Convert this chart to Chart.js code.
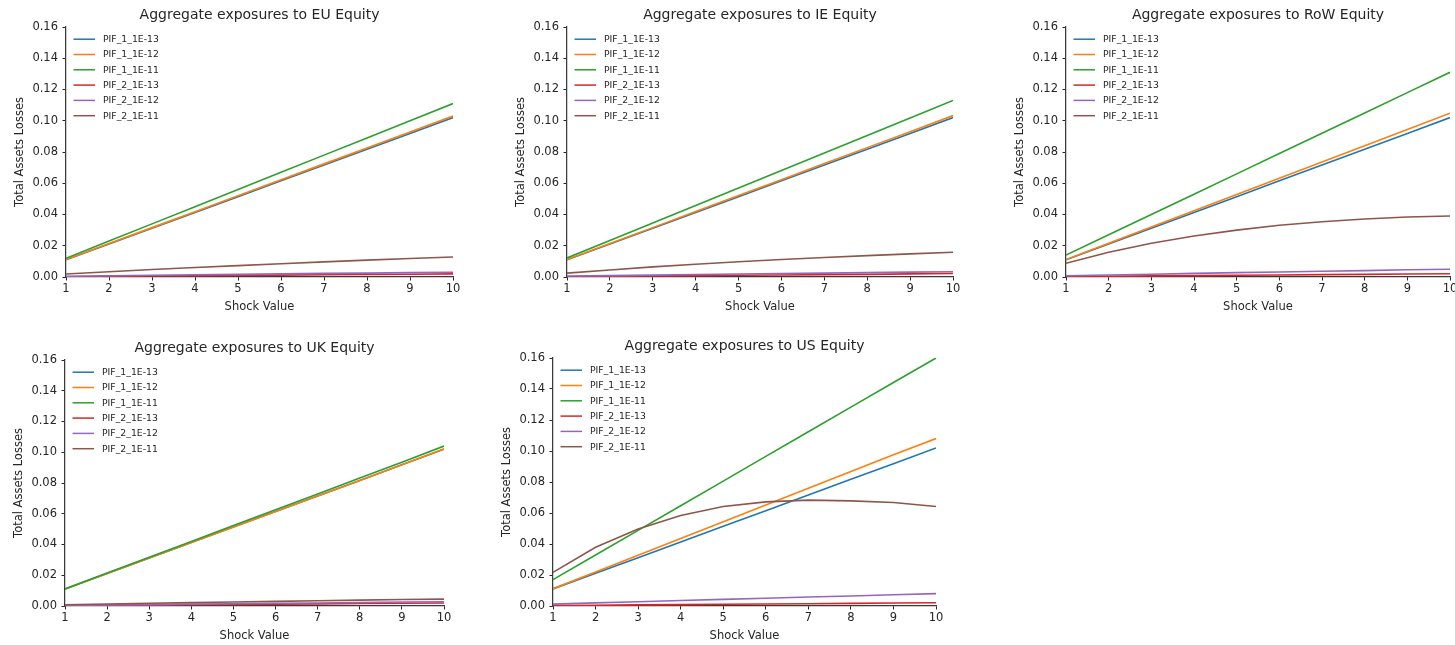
<!DOCTYPE html>
<html>
<head>
<meta charset="utf-8">
<script src="https://cdn.jsdelivr.net/npm/chart.js@4.4.0/dist/chart.umd.min.js"></script>
<style>
  body { margin: 0; width: 1455px; height: 645px; overflow: hidden; background: #fff; position: relative; }
  canvas { position: absolute; }
</style>
</head>
<body>
<canvas id="euCtx"></canvas>
<canvas id="ieCtx"></canvas>
<canvas id="rowCtx"></canvas>
<canvas id="ukCtx"></canvas>
<canvas id="usCtx"></canvas>
<script>
// shock values on the x axis and the six scenario names
const shockValues = [1, 2, 3, 4, 5, 6, 7, 8, 9, 10];
const seriesNames = ["PIF_1_1E-13", "PIF_1_1E-12", "PIF_1_1E-11", "PIF_2_1E-13", "PIF_2_1E-12", "PIF_2_1E-11"];
const yTicks = [0, 0.02, 0.04, 0.06, 0.08, 0.10, 0.12, 0.14, 0.16];

// losses per region, one row per scenario (same order as seriesNames)
const euLosses = [
    [0.0110, 0.0211, 0.0312, 0.0413, 0.0514, 0.0616, 0.0717, 0.0818, 0.0919, 0.1020],
    [0.0112, 0.0214, 0.0316, 0.0418, 0.0520, 0.0622, 0.0724, 0.0826, 0.0928, 0.1030],
    [0.0120, 0.0230, 0.0340, 0.0450, 0.0560, 0.0670, 0.0780, 0.0890, 0.1000, 0.1110],
    [0.0002, 0.0004, 0.0006, 0.0008, 0.0010, 0.0012, 0.0014, 0.0016, 0.0018, 0.0020],
    [0.0005, 0.0008, 0.0011, 0.0014, 0.0017, 0.0020, 0.0023, 0.0025, 0.0028, 0.0030],
    [0.0019, 0.0034, 0.0048, 0.0061, 0.0073, 0.0085, 0.0097, 0.0108, 0.0118, 0.0128]
];
const ieLosses = [
    [0.0110, 0.0211, 0.0312, 0.0413, 0.0514, 0.0616, 0.0717, 0.0818, 0.0919, 0.1020],
    [0.0112, 0.0214, 0.0316, 0.0419, 0.0521, 0.0623, 0.0726, 0.0828, 0.0930, 0.1033],
    [0.0122, 0.0234, 0.0346, 0.0458, 0.0570, 0.0682, 0.0794, 0.0906, 0.1018, 0.1130],
    [0.0002, 0.0004, 0.0006, 0.0009, 0.0011, 0.0013, 0.0015, 0.0017, 0.0020, 0.0022],
    [0.0006, 0.0009, 0.0012, 0.0016, 0.0019, 0.0022, 0.0025, 0.0028, 0.0031, 0.0034],
    [0.0025, 0.0045, 0.0065, 0.0082, 0.0098, 0.0112, 0.0125, 0.0137, 0.0148, 0.0158]
];
const rowLosses = [
    [0.0110, 0.0211, 0.0312, 0.0413, 0.0514, 0.0616, 0.0717, 0.0818, 0.0919, 0.1020],
    [0.0112, 0.0216, 0.0320, 0.0424, 0.0528, 0.0632, 0.0736, 0.0840, 0.0944, 0.1048],
    [0.0140, 0.0270, 0.0400, 0.0530, 0.0660, 0.0790, 0.0920, 0.1050, 0.1180, 0.1310],
    [0.0003, 0.0005, 0.0007, 0.0009, 0.0011, 0.0013, 0.0015, 0.0017, 0.0019, 0.0021],
    [0.0008, 0.0013, 0.0018, 0.0023, 0.0028, 0.0032, 0.0037, 0.0041, 0.0046, 0.0050],
    [0.0088, 0.0158, 0.0216, 0.0262, 0.0300, 0.0331, 0.0354, 0.0371, 0.0384, 0.0390]
];
const ukLosses = [
    [0.0110, 0.0211, 0.0312, 0.0413, 0.0514, 0.0615, 0.0716, 0.0817, 0.0918, 0.1020],
    [0.0110, 0.0211, 0.0312, 0.0413, 0.0514, 0.0615, 0.0716, 0.0817, 0.0918, 0.1022],
    [0.0111, 0.0214, 0.0317, 0.0420, 0.0523, 0.0626, 0.0729, 0.0832, 0.0935, 0.1040],
    [0.0002, 0.0004, 0.0006, 0.0008, 0.0010, 0.0012, 0.0014, 0.0016, 0.0018, 0.0020],
    [0.0004, 0.0007, 0.0009, 0.0012, 0.0015, 0.0018, 0.0020, 0.0023, 0.0026, 0.0028],
    [0.0008, 0.0013, 0.0018, 0.0022, 0.0026, 0.0030, 0.0034, 0.0038, 0.0042, 0.0045]
];
const usLosses = [
    [0.0110, 0.0211, 0.0312, 0.0413, 0.0514, 0.0615, 0.0716, 0.0817, 0.0918, 0.1020],
    [0.0112, 0.0220, 0.0328, 0.0436, 0.0544, 0.0652, 0.0760, 0.0868, 0.0976, 0.1080],
    [0.0170, 0.0329, 0.0488, 0.0647, 0.0806, 0.0965, 0.1124, 0.1283, 0.1442, 0.1600],
    [0.0003, 0.0005, 0.0007, 0.0009, 0.0011, 0.0013, 0.0015, 0.0017, 0.0019, 0.0021],
    [0.0012, 0.0020, 0.0027, 0.0035, 0.0043, 0.0050, 0.0058, 0.0065, 0.0073, 0.0080],
    [0.0217, 0.0379, 0.0497, 0.0584, 0.0642, 0.0672, 0.0683, 0.0678, 0.0668, 0.0642]
];

// matplotlib tab10 colours
const colors = ["#1f77b4", "#ff7f0e", "#2ca02c", "#d62728", "#9467bd", "#8c564b"];

const FONT = "'DejaVu Sans', 'Liberation Sans', sans-serif";
const INK = "#262626";
const Y_AXIS_W = 66;
const X_AXIS_H = 40;
const TITLE_H = 27;
const RIGHT_PAD = 12;

// legend drawn inside the plot area, top left, like matplotlib's
const insideLegend = {
    id: "insideLegend",
    afterDatasetsDraw(chart) {
        const ctx = chart.ctx;
        const area = chart.chartArea;
        ctx.save();
        ctx.font = "9.3px " + FONT;
        ctx.textBaseline = "middle";
        ctx.textAlign = "left";
        chart.data.datasets.forEach((ds, i) => {
            const y = area.top + 12.2 + i * 15.3;
            ctx.strokeStyle = ds.borderColor;
            ctx.lineWidth = 1.5;
            ctx.beginPath();
            ctx.moveTo(area.left + 7.5, y);
            ctx.lineTo(area.left + 29, y);
            ctx.stroke();
            ctx.fillStyle = INK;
            ctx.fillText(ds.label, area.left + 37, y + 0.5);
        });
        ctx.restore();
    }
};

// builds one subplot; box = plot area edges in page pixels
function makePanel(id, title, losses, box) {
    const canvas = document.getElementById(id);
    const w = (box.right - box.left) + Y_AXIS_W + RIGHT_PAD;
    const h = (box.bottom - box.top) + TITLE_H + X_AXIS_H;
    canvas.style.left = (box.left - Y_AXIS_W) + "px";
    canvas.style.top = (box.top - TITLE_H) + "px";
    canvas.style.width = w + "px";
    canvas.style.height = h + "px";
    canvas.width = w;
    canvas.height = h;

    const datasets = seriesNames.map((name, i) => ({
        label: name,
        data: shockValues.map((x, j) => ({ x: x, y: losses[i][j] })),
        borderColor: colors[i],
        backgroundColor: colors[i],
        borderWidth: 1.6,
        pointRadius: 0,
        tension: 0,
        fill: false,
        order: seriesNames.length - i
    }));

    return new Chart(canvas, {
        type: "line",
        data: { datasets: datasets },
        plugins: [insideLegend],
        options: {
            responsive: false,
            animation: false,
            events: [],
            layout: { padding: { left: 0, right: RIGHT_PAD, top: 0, bottom: 0 } },
            scales: {
                x: {
                    type: "linear",
                    min: 1,
                    max: 10,
                    afterFit: s => { s.height = X_AXIS_H; },
                    ticks: {
                        stepSize: 1,
                        autoSkip: false,
                        maxRotation: 0,
                        padding: 2,
                        color: INK,
                        font: { family: FONT, size: 11.5 }
                    },
                    grid: { drawOnChartArea: false, drawTicks: true, tickLength: 3.5, color: INK, tickWidth: 1 },
                    border: { display: true, color: "#3a3a3a", width: 1.25 },
                    title: {
                        display: true,
                        text: "Shock Value",
                        color: INK,
                        font: { family: FONT, size: 11.5 },
                        padding: { top: 0, bottom: 3.5 }
                    }
                },
                y: {
                    min: 0,
                    max: 0.16,
                    afterFit: s => { s.width = Y_AXIS_W; },
                    afterBuildTicks: s => { s.ticks = yTicks.map(v => ({ value: v })); },
                    ticks: {
                        padding: 4.5,
                        color: INK,
                        font: { family: FONT, size: 11.5 },
                        callback: v => v.toFixed(2)
                    },
                    grid: { drawOnChartArea: false, drawTicks: true, tickLength: 3.5, color: INK, tickWidth: 1 },
                    border: { display: true, color: "#3a3a3a", width: 1.25 },
                    title: {
                        display: true,
                        text: "Total Assets Losses",
                        color: INK,
                        font: { family: FONT, size: 11.5 },
                        padding: { top: 13, bottom: 0 }
                    }
                }
            },
            plugins: {
                title: {
                    display: true,
                    text: title,
                    fullSize: false,
                    color: INK,
                    font: { family: FONT, size: 14, weight: "normal", lineHeight: "16px" },
                    padding: { top: 7.5, bottom: 3.5 }
                },
                legend: { display: false },
                tooltip: { enabled: false }
            }
        }
    });
}

makePanel("euCtx", "Aggregate exposures to EU Equity", euLosses, { left: 66, top: 27, right: 453, bottom: 277 });
makePanel("ieCtx", "Aggregate exposures to IE Equity", ieLosses, { left: 566.5, top: 27, right: 953, bottom: 277 });
makePanel("rowCtx", "Aggregate exposures to RoW Equity", rowLosses, { left: 1066, top: 27, right: 1450, bottom: 277 });
makePanel("ukCtx", "Aggregate exposures to UK Equity", ukLosses, { left: 65, top: 360, right: 444, bottom: 606 });
makePanel("usCtx", "Aggregate exposures to US Equity", usLosses, { left: 553, top: 358, right: 936, bottom: 606 });
</script>
</body>
</html>
